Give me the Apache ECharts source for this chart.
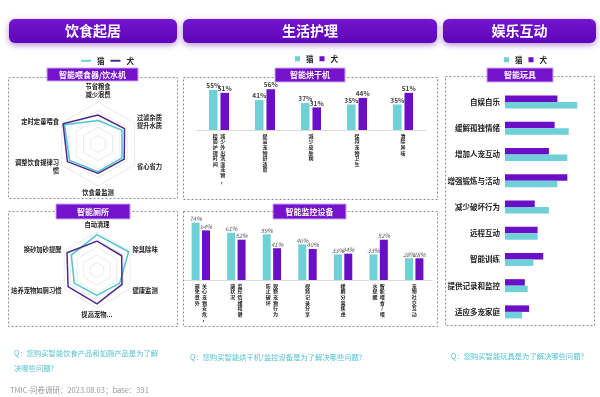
<!DOCTYPE html>
<html>
<head>
<meta charset="utf-8">
<script src="https://cdn.jsdelivr.net/npm/echarts@6/dist/echarts.min.js"></script>
<style>
  html, body { margin: 0; padding: 0; background: #fff; }
  #main { width: 600px; height: 397px; }
</style>
</head>
<body>
<div id="main"></div>
<script>
// 智能喂食器/饮水机 (radar, indicators counter-clockwise from top)
var feedNames = ['节省粮食\n减少浪费', '定时定量喂食', '调整饮食规律习\n惯', '饮食量监测', '省心省力', '过滤杂质\n提升水质'];
var feedCat = [56, 92, 78, 66, 66, 66];
var feedDog = [69, 96, 84, 70, 72, 73];

// 智能厕所
var toiletNames = ['自动清理', '换砂加砂提醒', '培养宠物如厕习惯', '提高宠物...', '健康监测', '除臭除味'];
var toiletCat = [93, 78, 69, 67, 69, 96];
var toiletDog = [76, 91, 88, 89, 76, 75];

// 智能烘干机
var dryerCats = ['减少外出洗澡宠物，\n精简护理时间', '提高宠物舒适度', '减少皮肤病', '保持宠物卫生', '清除异味'];
var dryerCat = [55, 41, 37, 35, 35];
var dryerDog = [51, 56, 31, 44, 51];

// 智能监控设备
var monitorCats = ['关心宠物安危，\n避免意外', '监控情绪和健\n康状况', '观察宠物行为\n防止破坏', '视频记录分享', '缓解分离焦虑', '智能喂食/喂\n水提醒', '宠物社交互动'];
var monitorCat = [74, 61, 59, 46, 33, 33, 28];
var monitorDog = [64, 52, 41, 40, 34, 52, 28];

// 智能玩具
var toyCats = ['自娱自乐', '缓解孤独情绪', '增加人宠互动', '增强锻炼与活动', '减少破坏行为', '远程互动', '智能训练', '提供记录和监控', '适应多宠家庭'];
var toyCat = [51, 45, 44, 37, 31, 23, 20, 16, 12];
var toyDog = [37, 35, 31, 44, 21, 23, 27, 14, 17];

var TEAL = '#6fd0d8';
var PURPLE = '#6a0fc6';
var LINE_PURPLE = '#4e2a8e';
var FONT = '"Noto Sans CJK SC", sans-serif';

// stack characters vertically, extra columns go to the left
function vert(s) {
  var cols = s.split('\n');
  var n = 0;
  cols.forEach(function (c) { if (c.length > n) n = c.length; });
  var rows = [];
  for (var i = 0; i < n; i++) {
    var row = '';
    for (var c = cols.length - 1; c >= 0; c--) {
      row += (cols[c][i] || '　');
      if (c > 0) row += '  ';
    }
    rows.push(row);
  }
  return rows.join('\n');
}

function header(x, w, text) {
  return {
    type: 'rect', shape: { x: x, y: 19, width: w, height: 24, r: 6 },
    style: {
      fill: new echarts.graphic.LinearGradient(0, 0, 0, 1, [
        { offset: 0, color: '#7414d2' }, { offset: 1, color: '#5e06b8' }]),
      shadowBlur: 6, shadowColor: 'rgba(90,0,170,0.45)', shadowOffsetY: 2
    },
    textContent: { style: { text: text, fill: '#fff', font: 'bold 14px ' + FONT } },
    textConfig: { position: 'inside' }
  };
}
function subBox(x, y, w, h, text) {
  return {
    type: 'group', z: 10,
    children: [
      { type: 'rect', z: 10, shape: { x: x, y: y, width: w, height: h },
        style: { fill: '#7512cc', stroke: '#c9a6f0', lineWidth: 1 } },
      { type: 'text', z: 11, x: x + w / 2, y: y + h / 2,
        style: { text: text, fill: '#fff', font: 'bold 8px ' + FONT, textAlign: 'center', textVerticalAlign: 'middle' } }
    ]
  };
}
function dashed(x, y, w, h) {
  return {
    type: 'rect', z: 1, shape: { x: x, y: y, width: w, height: h },
    style: { fill: null, stroke: '#8c8c8c', lineWidth: 1, lineDash: [2, 2] }
  };
}
function txt(x, y, text, color, size) {
  return { type: 'text', x: x, y: y, style: { text: text, fill: color, font: size + 'px ' + FONT, lineHeight: 15 } };
}

var legendText = { fontSize: 7.5, fontWeight: 'bold', color: '#222', fontFamily: FONT, padding: [0, 0, 0, 1] };
function legendData(dogColor) {
  return [{ name: '猫', itemStyle: { color: TEAL } }, { name: '犬', itemStyle: { color: dogColor } }];
}

var radarName = { color: '#222', fontSize: 6.3, fontWeight: 'bold', fontFamily: FONT, lineHeight: 8 };
function radarCfg(names, center, r) {
  return {
    center: center, radius: r, shape: 'polygon', splitNumber: 5, nameGap: 3,
    indicator: names.map(function (n) { return { name: n, max: 100 }; }),
    axisName: radarName,
    axisLine: { show: false },
    splitLine: { lineStyle: { color: '#ebebeb' } },
    splitArea: { show: false }
  };
}
function radarSeries(idx, cat, dog) {
  return {
    type: 'radar', radarIndex: idx, symbol: 'none',
    data: [
      { name: '猫', value: cat, lineStyle: { color: '#4fc6d2', width: 1.5 }, itemStyle: { color: TEAL } },
      { name: '犬', value: dog, lineStyle: { color: LINE_PURPLE, width: 1.5 }, itemStyle: { color: LINE_PURPLE } }
    ]
  };
}

var vLabel = {
  interval: 0, fontSize: 5, lineHeight: 5.6, color: '#222', fontWeight: 'bold',
  fontFamily: FONT, margin: 3, formatter: vert
};

var chart = echarts.init(document.getElementById('main'), null, { renderer: 'canvas' });
chart.setOption({
  animation: false,
  backgroundColor: '#fff',
  textStyle: { fontFamily: FONT },
  legend: [
    { left: 76, top: 52, itemWidth: 10, itemHeight: 2, itemGap: 6, icon: 'rect',
      data: legendData(LINE_PURPLE), textStyle: legendText, selectedMode: false },
    { left: 290, top: 50, itemWidth: 5, itemHeight: 5, itemGap: 6, icon: 'rect',
      data: legendData(PURPLE), textStyle: legendText, selectedMode: false },
    { left: 499, top: 51, itemWidth: 5, itemHeight: 5, itemGap: 6, icon: 'rect',
      data: legendData(PURPLE), textStyle: legendText, selectedMode: false }
  ],
  radar: [
    radarCfg(feedNames, [98, 144], 42),
    radarCfg(toiletNames, [97, 270], 38)
  ],
  grid: [
    { left: 196, right: 174, top: 79, bottom: 267 },
    { left: 183, right: 168, top: 218, bottom: 117 },
    { left: 505, right: 10, top: 89, bottom: 72 }
  ],
  xAxis: [
    { type: 'category', gridIndex: 0, data: dryerCats, axisTick: { show: false },
      axisLine: { lineStyle: { color: '#dcdcdc' } }, axisLabel: vLabel },
    { type: 'category', gridIndex: 1, data: monitorCats, axisTick: { show: false },
      axisLine: { lineStyle: { color: '#dcdcdc' } }, axisLabel: vLabel },
    { type: 'value', gridIndex: 2, min: 0, max: 60, show: false }
  ],
  yAxis: [
    { type: 'value', gridIndex: 0, min: 0, max: 70, show: false },
    { type: 'value', gridIndex: 1, min: 0, max: 80, show: false },
    { type: 'category', gridIndex: 2, data: toyCats, inverse: true,
      axisLine: { show: false }, axisTick: { show: false },
      axisLabel: { fontSize: 7.5, fontWeight: 'bold', color: '#222', margin: 5, fontFamily: FONT } }
  ],
  series: [
    radarSeries(0, feedCat, feedDog),
    radarSeries(1, toiletCat, toiletDog),
    { name: '猫', type: 'bar', xAxisIndex: 0, yAxisIndex: 0, data: dryerCat, barWidth: 8.5, barGap: '35%',
      itemStyle: { color: TEAL },
      label: { show: true, position: 'top', distance: 1, formatter: '{c}%', fontSize: 6.5, fontWeight: 'bold', color: '#444' } },
    { name: '犬', type: 'bar', xAxisIndex: 0, yAxisIndex: 0, data: dryerDog, barWidth: 8.5, barGap: '35%',
      itemStyle: { color: PURPLE },
      label: { show: true, position: 'top', distance: 1, formatter: '{c}%', fontSize: 6.5, fontWeight: 'bold', color: '#444' } },
    { name: '猫', type: 'bar', xAxisIndex: 1, yAxisIndex: 1, data: monitorCat, barWidth: 8, barGap: '30%',
      itemStyle: { color: TEAL },
      label: { show: true, position: 'top', distance: 1, formatter: '{c}%', fontSize: 6, fontStyle: 'italic', color: '#555' } },
    { name: '犬', type: 'bar', xAxisIndex: 1, yAxisIndex: 1, data: monitorDog, barWidth: 8, barGap: '30%',
      itemStyle: { color: PURPLE },
      label: { show: true, position: 'top', distance: 1, formatter: '{c}%', fontSize: 6, fontStyle: 'italic', color: '#555' } },
    { name: '犬', type: 'bar', xAxisIndex: 2, yAxisIndex: 2, data: toyDog, barWidth: 6.5, barGap: '0%',
      itemStyle: { color: PURPLE } },
    { name: '猫', type: 'bar', xAxisIndex: 2, yAxisIndex: 2, data: toyCat, barWidth: 6.5, barGap: '0%',
      itemStyle: { color: TEAL } }
  ],
  graphic: [
    header(9, 168, '饮食起居'),
    header(183, 254, '生活护理'),
    header(443, 153, '娱乐互动'),
    dashed(8.5, 77.5, 169, 121),
    dashed(8.5, 211.5, 169, 115),
    dashed(183.5, 77.5, 254, 122),
    dashed(183.5, 211.5, 254, 115),
    dashed(445.5, 76.5, 149, 249),
    subBox(47, 68, 91, 13, '智能喂食器/饮水机'),
    subBox(56, 204, 74, 15, '智能厕所'),
    subBox(275, 68, 70, 14, '智能烘干机'),
    subBox(273, 204, 73, 15, '智能监控设备'),
    subBox(487, 68, 66, 14, '智能玩具'),
    txt(14, 346, 'Q：您购买智能饮食产品和如厕产品是为了解\n决哪些问题?', '#52c3cf', 7.3),
    txt(190, 350, 'Q：您购买智能烘干机/监控设备是为了解决哪些问题?', '#52c3cf', 7.3),
    txt(451, 349, 'Q：您购买智能玩具是为了解决哪些问题?', '#52c3cf', 7.3),
    txt(10, 383, 'TMIC-问卷调研：2023.08.03；base：391', '#9a9a9a', 7.5)
  ]
});
</script>
</body>
</html>
